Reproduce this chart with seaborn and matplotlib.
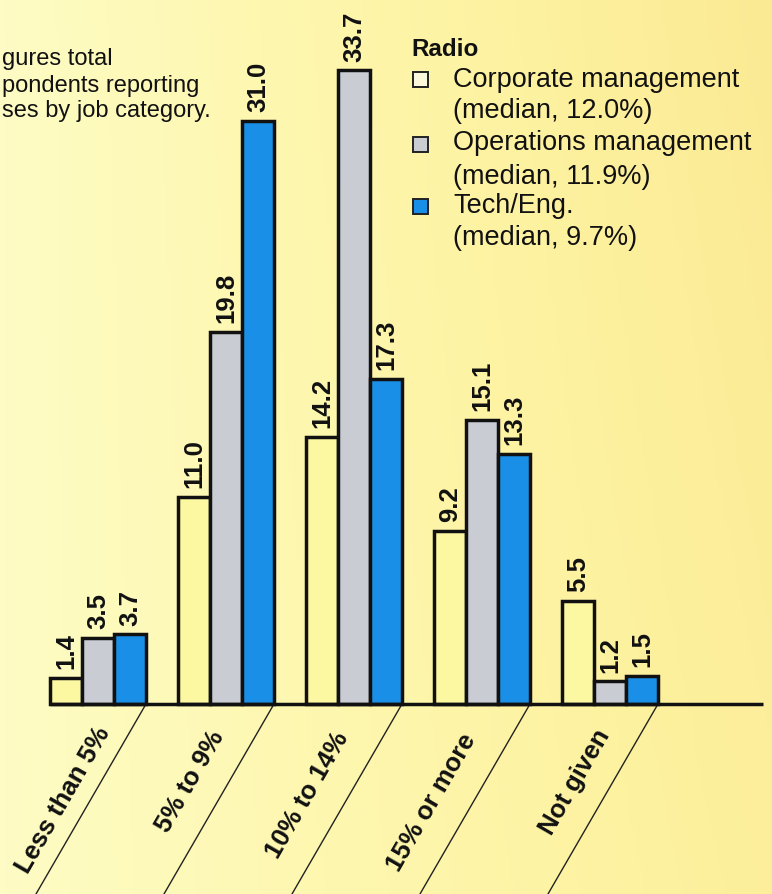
import numpy as np
import pandas as pd
import matplotlib
matplotlib.use("Agg")
import matplotlib.pyplot as plt
import seaborn as sns
from matplotlib.patches import Rectangle
from matplotlib.colors import LinearSegmentedColormap

# ---------------- data ----------------
categories = ["Less than 5%", "5% to 9%", "10% to 14%", "15% or more", "Not given"]
series = ["Corporate management", "Operations management", "Tech/Eng."]
corporate = [1.4, 11.0, 14.2, 9.2, 5.5]
operations = [3.5, 19.8, 33.7, 15.1, 1.2]
tech_eng = [3.7, 31.0, 17.3, 13.3, 1.5]
medians = ["12.0%", "11.9%", "9.7%"]
legend_title = "Radio"
note_lines = ["gures total", "pondents reporting", "ses by job category."]

colors = ["#FCF8A2", "#C9CCD3", "#1A8FE8"]
legend_colors = ["#FBF8DC", "#C9CCD3", "#1A8FE8"]

# ---------------- layout helpers ----------------
W, H = 772, 895
base_px = 705          # baseline pixel row
ppu = 18.8             # pixels per data unit
grp_px0 = 98           # centre of first group
grp_step = 128         # pixels between groups

sns.set_theme(style="white")
plt.rcParams['font.family'] = ['Liberation Sans', 'DejaVu Sans']

fig = plt.figure(figsize=(W / 100, H / 100), dpi=100)

# background gradient (paper colour)
bg = fig.add_axes([0, 0, 1, 1], zorder=0)
cmap = LinearSegmentedColormap.from_list("paper", ["#FEFCC4", "#FDF7B0", "#FDF2A0", "#FBEA94"])
gx = np.linspace(0, 1, 256)[None, :]
gy = np.linspace(0, 1, 64)[:, None]
grad = np.clip(0.8 * gx + 0.2 * gy * gx, 0, 1)
bg.imshow(grad, aspect="auto", cmap=cmap, extent=[0, 1, 0, 1], origin="lower")
bg.set_axis_off()

ax = fig.add_axes([0, 0, 1, 1], zorder=1)
ax.patch.set_alpha(0)

rows = []
for s, vals in zip(series, [corporate, operations, tech_eng]):
    for c, v in zip(categories, vals):
        rows.append({"category": c, "series": s, "value": v})
df = pd.DataFrame(rows)

sns.barplot(data=df, x="category", y="value", hue="series",
            order=categories, hue_order=series, palette=colors,
            saturation=1, edgecolor="#111111", linewidth=2.5,
            width=0.75, legend=False, ax=ax, errorbar=None)

ymin = -(H - base_px) / ppu
ymax = base_px / ppu
xmin = -grp_px0 / grp_step
xmax = (W - grp_px0) / grp_step
ax.set_xlim(xmin, xmax)
ax.set_ylim(ymin, ymax)
ax.set_axis_off()

# value labels
for cont in ax.containers:
    ax.bar_label(cont, fmt="%.1f", rotation=90, padding=7,
                 fontsize=18.5, fontweight="bold", color="#111111")

# baseline
ax.plot([-0.375, (763 - grp_px0) / grp_step], [0, 0], color="#111111",
        lw=2.5, solid_capstyle="butt", zorder=5)

# slanted dividers
dx = 110 / grp_step
for i in range(len(categories)):
    x0 = i + 0.375
    ax.plot([x0, x0 - dx], [0, ymin], color="#222222", lw=1.0, zorder=4)

# category labels (rotated, between dividers)
label_dx_px = [-35, -36, -47, -50, -35]
label_y_px = [800, 782, 795, 803, 782]
for i, (c, ddx, ly) in enumerate(zip(categories, label_dx_px, label_y_px)):
    ax.text(i + ddx / grp_step, (base_px - ly) / ppu, c, rotation=60,
            rotation_mode="anchor", ha="center", va="center",
            fontsize=18.5, fontweight="bold", color="#111111")

# legend (drawn manually)
def fx(px):
    return px / W

def fy(py):
    return 1 - py / H

fig.text(fx(411), fy(49), legend_title, fontsize=17.5, fontweight="bold",
         ha="left", va="center", color="#111111", zorder=6)
entries = [
    (series[0], medians[0], 80, 111, 73),
    (series[1], medians[1], 143, 177, 138),
    (series[2], medians[2], 206, 238, 200),
]
for (name, med, y1, y2, sq), col in zip(entries, legend_colors):
    fig.text(fx(453), fy(y1), name, fontsize=19.5, ha="left", va="center",
             color="#111111", zorder=6)
    fig.text(fx(453), fy(y2), f"(median, {med})", fontsize=19.5, ha="left",
             va="center", color="#111111", zorder=6)
    fig.add_artist(Rectangle((fx(413), fy(sq + 15)), 15 / W, 15 / H,
                             transform=fig.transFigure, facecolor=col,
                             edgecolor="#222222", lw=1.4, zorder=6))

# note text at top-left (cut off in the original)
for txt, yc in zip(note_lines, [59, 86, 111]):
    fig.text(fx(2), fy(yc), txt, fontsize=17, ha="left", va="center",
             color="#111111", zorder=6)

fig.savefig("out.png", dpi=100)
